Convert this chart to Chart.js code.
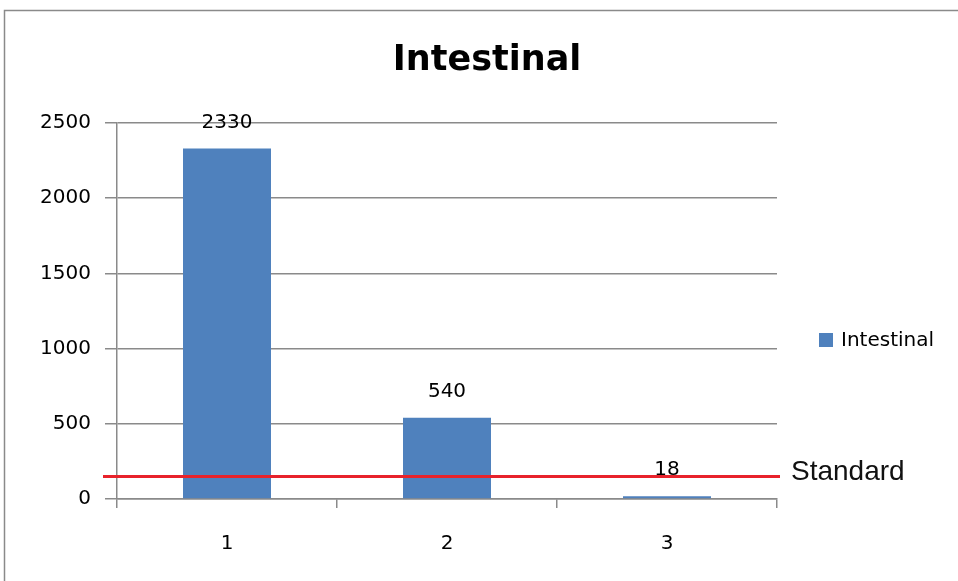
<!DOCTYPE html>
<html lang="en">
<head>
  <meta charset="UTF-8" />
  <title>Intestinal</title>
  <script src="https://cdn.jsdelivr.net/npm/chart.js"></script>
  <style>
    body {
      margin: 0;
      background: #ffffff;
    }
    #wrap {
      width: 958px;
      height: 581px;
    }
  </style>
</head>
<body>
  <div id="wrap">
    <canvas id="chart" width="958" height="581"></canvas>
  </div>

  <script>
    const categories = ['1', '2', '3'];
    const counts = [2330, 540, 18];
    const standardValue = 150;
    const yTicks = [0, 500, 1000, 1500, 2000, 2500];
    const chartTitle = 'Intestinal';

    const barColor = '#4f81bd';
    const gridColor = '#8a8a8a';

    // outer chart frame and centred title
    const framePlugin = {
      id: 'frame',
      beforeDraw(chart) {
        const ctx = chart.ctx;
        ctx.save();
        ctx.strokeStyle = '#8a8a8a';
        ctx.lineWidth = 1.5;
        ctx.strokeRect(4.5, 10.5, 1200, 1200);
        ctx.font = 'bold 35px "DejaVu Sans"';
        ctx.fillStyle = '#000';
        ctx.textAlign = 'center';
        ctx.textBaseline = 'middle';
        ctx.fillText(chartTitle, 487, 61);
        ctx.restore();
      }
    };

    // value labels above each bar
    const valueLabels = {
      id: 'valueLabels',
      afterDatasetsDraw(chart) {
        const ctx = chart.ctx;
        const meta = chart.getDatasetMeta(0);
        ctx.save();
        ctx.font = '20px "DejaVu Sans"';
        ctx.fillStyle = '#000';
        ctx.textAlign = 'center';
        ctx.textBaseline = 'middle';
        meta.data.forEach((bar, i) => {
          ctx.fillText(String(counts[i]), bar.x, bar.y - 26);
        });
        ctx.restore();
      }
    };

    // red standard line with its label
    const standardLine = {
      id: 'standardLine',
      afterDraw(chart) {
        const ctx = chart.ctx;
        const y = chart.scales.y.getPixelForValue(standardValue);
        const area = chart.chartArea;
        ctx.save();
        ctx.strokeStyle = '#e8222b';
        ctx.lineWidth = 3;
        ctx.beginPath();
        ctx.moveTo(area.left - 14, y);
        ctx.lineTo(area.right + 3, y);
        ctx.stroke();
        ctx.font = '28px "Liberation Sans"';
        ctx.fillStyle = '#111';
        ctx.textAlign = 'left';
        ctx.textBaseline = 'middle';
        ctx.fillText('Standard', area.right + 14, y - 4);
        ctx.restore();
      }
    };

    // legend box on the right
    const sideLegend = {
      id: 'sideLegend',
      afterDraw(chart) {
        const ctx = chart.ctx;
        const ds = chart.data.datasets[0];
        ctx.save();
        ctx.fillStyle = ds.backgroundColor;
        ctx.fillRect(819, 333, 14, 14);
        ctx.font = '20px "DejaVu Sans"';
        ctx.fillStyle = '#000';
        ctx.textBaseline = 'middle';
        ctx.fillText(ds.label, 841, 341);
        ctx.restore();
      }
    };

    new Chart(document.getElementById('chart'), {
      type: 'bar',
      data: {
        labels: categories,
        datasets: [{
          label: 'Intestinal',
          data: counts,
          backgroundColor: barColor,
          barPercentage: 0.4,
          categoryPercentage: 1
        }]
      },
      options: {
        responsive: false,
        animation: false,
        layout: { padding: { left: 0, right: 181, top: 123, bottom: 0 } },
        plugins: {
          legend: { display: false },
          tooltip: { enabled: false },
          title: { display: false }
        },
        scales: {
          x: {
            offset: true,
            grid: {
              offset: true,
              drawOnChartArea: false,
              color: gridColor,
              lineWidth: 1.5,
              tickLength: 9
            },
            border: { color: gridColor, width: 1.5 },
            ticks: {
              color: '#000',
              font: { family: 'DejaVu Sans', size: 20 },
              padding: 24
            },
            afterFit(scale) { scale.height = 82; }
          },
          y: {
            min: 0,
            max: 2500,
            afterBuildTicks(scale) {
              scale.ticks = yTicks.map(v => ({ value: v }));
            },
            grid: { color: gridColor, lineWidth: 1.5, tickLength: 12 },
            border: { color: gridColor, width: 1.5 },
            ticks: {
              color: '#000',
              font: { family: 'DejaVu Sans', size: 20 },
              padding: 14,
              callback: v => String(v)
            },
            afterFit(scale) { scale.width = 117; }
          }
        }
      },
      plugins: [framePlugin, valueLabels, standardLine, sideLegend]
    });
  </script>
</body>
</html>
